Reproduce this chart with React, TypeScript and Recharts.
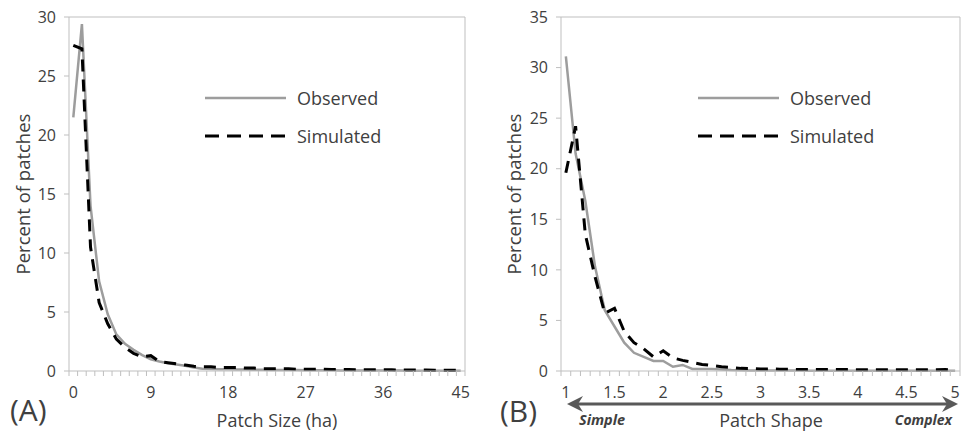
import React from 'react';
import { LineChart, Line, XAxis, YAxis, ReferenceLine, Legend } from 'recharts';

const FONT = '"Open Sans", "Liberation Sans", sans-serif';
const TEXT = '#404040';
const AXIS = '#bfbfbf';
const OBS = '#9d9d9d';
const SIM = '#000000';

// Panel A - patch size (ha), one category per hectare
const sizeCats = [
  0, 1, 2, 3, 4, 5, 6, 7, 8, 9, 10, 11, 12, 13, 14, 15, 16, 17, 18, 19, 20, 21, 22,
  23, 24, 25, 26, 27, 28, 29, 30, 31, 32, 33, 34, 35, 36, 37, 38, 39, 40, 41, 42, 43, 44, 45,
];
const sizeObserved = [
  21.5, 29.4, 14.0, 7.6, 4.8, 3.1, 2.3, 1.8, 1.35, 1.0, 0.8, 0.65, 0.55, 0.45, 0.3, 0.2,
  0.18, 0.15, 0.14, 0.12, 0.12, 0.1, 0.1, 0.09, 0.09, 0.08, 0.08, 0.07, 0.07, 0.06, 0.06,
  0.05, 0.05, 0.05, 0.05, 0.04, 0.04, 0.04, 0.04, 0.03, 0.03, 0.03, 0.03, 0.03, 0.03, 0.03,
];
const sizeSimulated = [
  27.6, 27.3, 10.5, 5.8, 4.0, 2.7, 2.0, 1.5, 1.2, 1.3, 0.8, 0.7, 0.6, 0.5, 0.4, 0.35,
  0.35, 0.3, 0.3, 0.3, 0.25, 0.25, 0.2, 0.2, 0.2, 0.2, 0.15, 0.15, 0.15, 0.15, 0.12,
  0.12, 0.12, 0.1, 0.1, 0.1, 0.1, 0.1, 0.08, 0.08, 0.08, 0.08, 0.06, 0.06, 0.06, 0.05,
];
const sizeLabels = [0, 9, 18, 27, 36, 45];
const sizeYTicks = [0, 5, 10, 15, 20, 25, 30];

// Panel B - patch shape index, one category per 0.1
const shapeCats = [
  1.0, 1.1, 1.2, 1.3, 1.4, 1.5, 1.6, 1.7, 1.8, 1.9, 2.0, 2.1, 2.2, 2.3, 2.4, 2.5, 2.6,
  2.7, 2.8, 2.9, 3.0, 3.1, 3.2, 3.3, 3.4, 3.5, 3.6, 3.7, 3.8, 3.9, 4.0, 4.1, 4.2, 4.3,
  4.4, 4.5, 4.6, 4.7, 4.8, 4.9, 5.0,
];
const shapeObserved = [
  31.1, 21.5, 16.8, 10.3, 6.0, 4.4, 2.8, 1.8, 1.4, 1.0, 1.0, 0.42, 0.6, 0.2, 0.2, 0.2,
  0.15, 0.1, 0.08, 0.06, 0.05, 0.05, 0.04, 0.04, 0.04, 0.03, 0.03, 0.03, 0.03, 0.03,
  0.03, 0.03, 0.03, 0.03, 0.03, 0.03, 0.03, 0.03, 0.03, 0.03, 0.03,
];
const shapeSimulated = [
  19.6, 24.2, 13.5, 9.3, 5.7, 6.2, 3.9, 2.8, 2.2, 1.4, 2.0, 1.3, 1.05, 0.85, 0.65, 0.55,
  0.42, 0.35, 0.26, 0.24, 0.2, 0.2, 0.18, 0.16, 0.15, 0.15, 0.15, 0.14, 0.14, 0.14,
  0.13, 0.13, 0.13, 0.12, 0.12, 0.12, 0.12, 0.12, 0.12, 0.15, 0.05,
];
const shapeLabels = [1, 1.5, 2, 2.5, 3, 3.5, 4, 4.5, 5];
const shapeYTicks = [0, 5, 10, 15, 20, 25, 30, 35];

const seriesNames = ['Observed', 'Simulated'];

const sizeData = sizeCats.map((x, i) => ({ x, observed: sizeObserved[i], simulated: sizeSimulated[i] }));
const shapeData = shapeCats.map((x, i) => ({ x, observed: shapeObserved[i], simulated: shapeSimulated[i] }));

// tick marks sit on the category boundaries, labels on the categories
const sizeMinor = sizeCats.map((c) => c - 0.5).concat(sizeCats[sizeCats.length - 1] + 0.5);
const shapeMinor = shapeCats
  .map((c) => +(c - 0.05).toFixed(2))
  .concat(+(shapeCats[shapeCats.length - 1] + 0.05).toFixed(2));

function makeTick(labels: number[]) {
  return (props: any) => {
    const { x, y, payload } = props;
    const v = payload.value;
    if (labels.includes(v)) {
      return (
        <text x={x} y={y + 27} textAnchor="middle" fontSize={16} fill={TEXT} fontFamily={FONT}>
          {v}
        </text>
      );
    }
    return <line x1={x} y1={y} x2={x} y2={y + 5} stroke={AXIS} strokeWidth={1} />;
  };
}

const LegendBox = () => (
  <div style={{ fontFamily: FONT, fontSize: 18, color: TEXT }}>
    {seriesNames.map((name, i) => (
      <div key={name} style={{ display: 'flex', alignItems: 'center', height: 38 }}>
        <svg width={81} height={38}>
          <line
            x1={0}
            x2={81}
            y1={19}
            y2={19}
            stroke={i === 0 ? OBS : SIM}
            strokeWidth={i === 0 ? 2.5 : 3}
            strokeDasharray={i === 0 ? undefined : '14 8'}
          />
        </svg>
        <span style={{ marginLeft: 11, whiteSpace: 'nowrap' }}>{name}</span>
      </div>
    ))}
  </div>
);

interface PanelProps {
  data: { x: number; observed: number; simulated: number }[];
  width: number;
  margin: { top: number; right: number; left: number; bottom: number };
  xDomain: [number, number];
  xTicks: number[];
  labels: number[];
  yMax: number;
  yTicks: number[];
  legendLeft: number;
}

function Panel({ data, width, margin, xDomain, xTicks, labels, yMax, yTicks, legendLeft }: PanelProps) {
  return (
    <LineChart width={width} height={435} data={data} margin={margin}>
      <XAxis
        dataKey="x"
        type="number"
        domain={xDomain}
        ticks={[...xTicks, ...labels]}
        interval={0}
        tickLine={false}
        tickSize={0}
        tickMargin={0}
        height={30}
        axisLine={{ stroke: AXIS }}
        tick={makeTick(labels)}
      />
      <YAxis
        type="number"
        domain={[0, yMax]}
        ticks={yTicks}
        interval={0}
        width={44}
        tickSize={5}
        tickMargin={8}
        axisLine={{ stroke: AXIS }}
        tickLine={{ stroke: AXIS }}
        tick={{ fontSize: 16, fill: TEXT, fontFamily: FONT }}
      />
      {/* plot area border */}
      <ReferenceLine x={xDomain[1]} stroke={AXIS} />
      <ReferenceLine y={yMax} stroke={AXIS} />
      <Legend
        layout="vertical"
        align="center"
        verticalAlign="middle"
        content={<LegendBox />}
        wrapperStyle={{ top: 79, left: legendLeft, width: 220 }}
      />
      <Line
        type="linear"
        dataKey="observed"
        name="Observed"
        stroke={OBS}
        strokeWidth={2.5}
        dot={false}
        activeDot={false}
        isAnimationActive={false}
      />
      <Line
        type="linear"
        dataKey="simulated"
        name="Simulated"
        stroke={SIM}
        strokeWidth={3}
        strokeDasharray="12 8"
        dot={false}
        activeDot={false}
        isAnimationActive={false}
      />
    </LineChart>
  );
}

export default function App() {
  return (
    <div style={{ position: 'absolute', left: 0, top: 0, width: 972, height: 435, background: '#fff' }}>
      <div style={{ position: 'absolute', left: 0, top: 0 }}>
        <Panel
          data={sizeData}
          width={480}
          margin={{ top: 17, right: 15, left: 25, bottom: 34 }}
          xDomain={[-0.5, 45.5]}
          xTicks={sizeMinor}
          labels={sizeLabels}
          yMax={30}
          yTicks={sizeYTicks}
          legendLeft={205}
        />
      </div>
      <div style={{ position: 'absolute', left: 490, top: 0 }}>
        <Panel
          data={shapeData}
          width={482}
          margin={{ top: 17, right: 12, left: 27, bottom: 34 }}
          xDomain={[0.95, 5.05]}
          xTicks={shapeMinor}
          labels={shapeLabels}
          yMax={35}
          yTicks={shapeYTicks}
          legendLeft={208}
        />
      </div>
      <svg
        width={972}
        height={435}
        style={{ position: 'absolute', left: 0, top: 0, pointerEvents: 'none' }}
        fontFamily={FONT}
        fill={TEXT}
      >
        <text x={22} y={194} fontSize={18.5} textAnchor="middle" dominantBaseline="central" transform="rotate(-90 22 194)">
          Percent of patches
        </text>
        <text x={513} y={194} fontSize={18.5} textAnchor="middle" dominantBaseline="central" transform="rotate(-90 513 194)">
          Percent of patches
        </text>
        <text x={277} y={427} fontSize={18} textAnchor="middle">Patch Size (ha)</text>
        <text x={10} y={421} fontSize={30}>(A)</text>
        <text x={500} y={422} fontSize={30}>(B)</text>

        {/* double-headed arrow under the shape axis */}
        <line x1={574} y1={404} x2={951} y2={404} stroke="#595959" strokeWidth={3} />
        <polygon points="567,404 583,396 578,404 583,412" fill="#595959" />
        <polygon points="958,404 942,396 947,404 942,412" fill="#595959" />

        <text x={579} y={425} fontSize={14.5} fontWeight="bold" fontStyle="italic">Simple</text>
        <text x={771} y={427} fontSize={18} textAnchor="middle">Patch Shape</text>
        <text x={952} y={425} fontSize={14} fontWeight="bold" fontStyle="italic" textAnchor="end">Complex</text>
      </svg>
    </div>
  );
}
